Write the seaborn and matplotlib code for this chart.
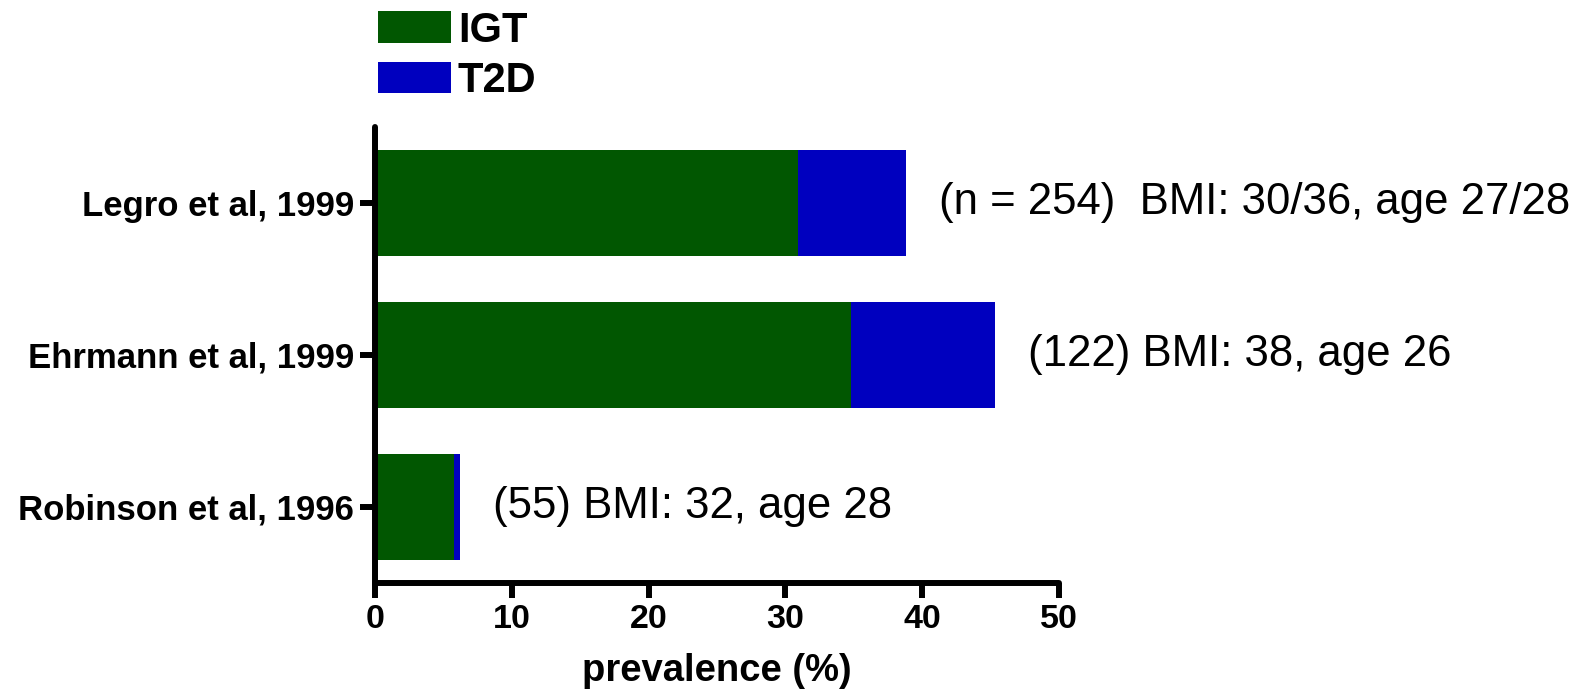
import matplotlib
matplotlib.use("Agg")
import matplotlib.pyplot as plt
from matplotlib.patches import Patch
import seaborn as sns
import pandas as pd

studies = ["Legro et al, 1999", "Ehrmann et al, 1999", "Robinson et al, 1996"]
igt = [30.9, 34.8, 5.8]
t2d = [7.9, 10.5, 0.4]
notes = ["(n = 254)  BMI: 30/36, age 27/28", "(122) BMI: 38, age 26", "(55) BMI: 32, age 28"]
xticks = [0, 10, 20, 30, 40, 50]
series = ["IGT", "T2D"]
colors = {"IGT": "#015701", "T2D": "#0000BF"}

sns.set_style("white")
plt.rcParams["font.family"] = ["Liberation Sans", "DejaVu Sans"]
plt.rcParams["text.color"] = "black"
plt.rcParams["axes.labelcolor"] = "black"
plt.rcParams["xtick.color"] = "black"
plt.rcParams["ytick.color"] = "black"

df = pd.DataFrame({"study": studies, "IGT": igt, "T2D": t2d})
df["total"] = df["IGT"] + df["T2D"]

W, H = 1589, 691
fig = plt.figure(figsize=(W / 100, H / 100), dpi=100)
ax = fig.add_axes([375 / W, (H - 582.7) / H, 684 / W, (582.7 - 126.7) / H])

sns.barplot(data=df, x="total", y="study", order=studies, color=colors["T2D"],
            saturation=1, width=0.7, linewidth=0, ax=ax, orient="h")
sns.barplot(data=df, x="IGT", y="study", order=studies, color=colors["IGT"],
            saturation=1, width=0.7, linewidth=0, ax=ax, orient="h")

ax.set_xlim(0, 50)
ax.set_ylim(2.5, -0.5)
ax.set_xticks(xticks)
ax.set_xticklabels([str(t) for t in xticks], fontsize=24.5, fontweight="bold", color="black")
ax.set_yticks(range(len(studies)))
ax.set_yticklabels(studies, fontsize=25, fontweight="bold", color="black")
ax.set_ylabel("")
ax.set_xlabel("prevalence (%)", fontsize=27.5, fontweight="bold", labelpad=13, color="black")

for side in ["top", "right"]:
    ax.spines[side].set_visible(False)
for side in ["left", "bottom"]:
    ax.spines[side].set_linewidth(4.3)
    ax.spines[side].set_color("black")
    ax.spines[side].set_capstyle("round")
ax.tick_params(axis="both", which="major", length=11, width=4.3, color="black",
               direction="out", bottom=True, left=True)
ax.tick_params(axis="x", pad=4.5)
ax.tick_params(axis="y", pad=4)

for i, (tot, note) in enumerate(zip(df["total"], notes)):
    ax.text(tot + 2.4, i, note, fontsize=31.5, va="center", ha="left", color="black")

handles = [Patch(facecolor=colors[s], edgecolor="none", label=s) for s in series]
leg = fig.legend(handles=handles, loc="upper left",
                 bbox_to_anchor=(378 / W, 1 - 10.5 / H), frameon=False,
                 prop={"size": 30, "weight": "bold"}, handlelength=1.75,
                 handleheight=0.8, handletextpad=0.17, labelspacing=0.25,
                 borderpad=0, borderaxespad=0)
for t in leg.get_texts():
    t.set_color("black")

fig.savefig("out.png", dpi=100)
